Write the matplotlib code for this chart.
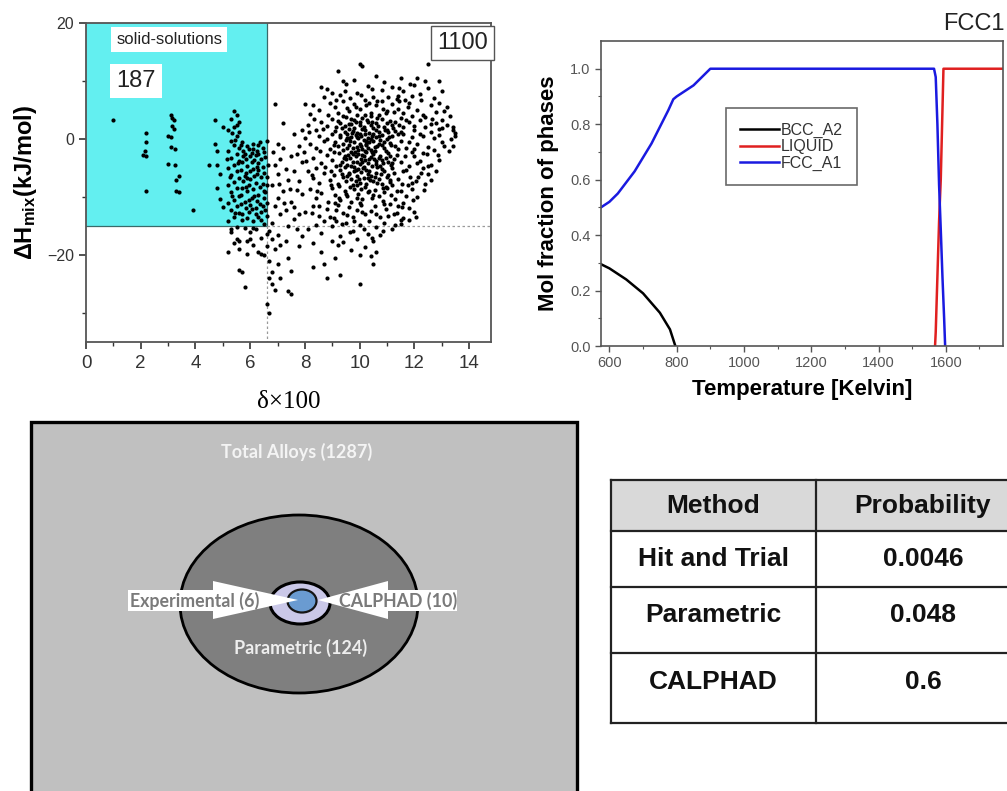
import matplotlib
matplotlib.use("Agg")
import matplotlib.pyplot as plt
from matplotlib.patches import Rectangle, Ellipse, Polygon
import numpy as np

plt.rcParams['font.family'] = ['Liberation Sans', 'DejaVu Sans']
plt.rcParams['mathtext.fontset'] = 'custom'
plt.rcParams['mathtext.rm'] = 'Liberation Sans'
plt.rcParams['mathtext.bf'] = 'Liberation Sans:bold'
plt.rcParams['mathtext.it'] = 'Liberation Sans:italic'

# ---------------- data: scatter (delta x100, dH_mix) ----------------
ss_points = [
    (1.0, 3.2), (2.2, 1.0), (2.2, -0.5), (2.15, -2.0), (2.1, -2.8), (2.2, -3.0), (2.2, -9.0),
    (3.1, 4.2), (3.15, 3.7), (3.2, 3.2), (3.15, 2.3), (3.2, 1.7), (3.0, 0.6), (3.1, 0.3),
    (3.1, -1.4), (3.25, -1.7), (3.0, -4.3), (3.25, -4.4), (3.4, -6.3), (3.3, -7.1), (3.3, -9.0),
    (3.4, -9.2), (3.9, -12.2),
    (4.5, -4.5), (4.7, 3.2), (4.7, -0.8), (4.8, -2.0), (4.8, -4.5), (4.8, -8.5), (4.9, -10.3),
    (5.0, -11.8), (5.0, 2.0), (4.9, -6.0),
    (5.4, 4.8), (5.5, 4.2), (5.3, 3.5), (5.6, 3.0), (5.5, 2.5), (5.4, 2.0), (5.2, 1.5), (5.6, 1.2),
    (5.5, 0.5), (5.3, -0.3), (5.4, -1.0), (5.6, -1.5), (5.2, -2.0), (5.5, -2.6), (5.3, -3.2),
    (5.6, -3.8), (5.4, -4.5), (5.2, -5.0), (5.5, -5.5), (5.3, -6.2), (5.6, -6.8), (5.4, -7.4),
    (5.2, -8.0), (5.5, -8.5), (5.3, -9.2), (5.6, -9.8), (5.4, -10.5), (5.2, -11.0), (5.5, -11.6),
    (5.3, -12.2), (5.6, -12.8), (5.4, -13.5), (5.2, -14.2), (5.45, -0.1), (5.35, 1.1),
    (5.7, -0.5), (5.9, -1.2), (6.1, -1.8), (6.3, -1.0), (6.5, -2.2), (5.8, -2.5), (6.0, -3.0),
    (6.2, -2.7), (6.4, -3.5), (6.6, -0.3), (5.7, -4.0), (5.9, -4.6), (6.1, -5.2), (6.3, -4.2),
    (6.5, -5.8), (5.8, -6.3), (6.0, -6.9), (6.2, -7.5), (6.4, -6.6), (6.6, -7.9), (5.7, -8.4),
    (5.9, -9.0), (6.1, -8.6), (6.3, -9.6), (6.5, -10.2), (5.8, -10.8), (6.0, -11.3), (6.2, -11.9),
    (6.4, -12.5), (6.6, -11.0), (5.7, -12.9), (5.9, -13.6), (6.1, -14.2), (6.3, -13.4), (6.5, -14.6),
    (5.75, -2.0), (5.85, -3.4), (5.95, -1.7), (6.05, -2.4), (6.15, -3.6), (6.25, -2.1), (6.35, -0.6),
    (6.45, -1.6), (6.55, -3.1), (5.65, -5.3), (5.85, -5.8), (6.05, -4.0), (6.25, -6.1), (6.45, -4.8),
    (6.6, -6.5), (5.75, -7.2), (5.95, -7.9), (6.15, -6.4), (6.35, -8.2), (6.55, -9.1), (5.65, -9.6),
    (5.85, -11.9), (6.05, -10.1), (6.25, -10.7), (6.45, -11.6), (6.6, -13.2), (5.7, -14.0),
    (5.95, -12.5), (6.2, -13.0), (6.4, -14.0), (6.1, -0.8), (6.3, -5.4), (5.9, -6.8),
    (5.15, -3.5), (5.25, -6.6), (5.35, -9.8), (5.45, -12.8), (5.55, -4.2), (5.65, -11.2),
    (5.75, -3.0), (5.85, -8.2), (5.95, -10.6), (6.05, -12.0), (6.15, -9.8), (6.25, -4.8),
    (6.35, -11.2), (6.45, -7.8), (6.55, -12.3), (6.65, -4.5), (5.65, -1.0), (6.0, -5.5),
    (6.3, -2.6), (6.5, -8.9),
]
tail_points = [
    (5.3, -16.0), (5.5, -17.2), (5.4, -18.0), (5.2, -19.5), (5.6, -19.0), (5.6, -22.5), (5.8, -25.5),
    (5.5, -15.2), (5.8, -15.3), (6.0, -16.1), (6.2, -15.6), (6.4, -17.0), (6.6, -16.4), (5.9, -17.6),
    (6.1, -18.2), (6.3, -19.5), (6.5, -20.0), (6.7, -21.0), (6.8, -23.0), (6.7, -24.0), (6.8, -25.0),
    (6.6, -28.5), (6.7, -30.0), (6.9, -26.0), (5.7, -23.0), (5.9, -19.8), (6.0, -17.2), (5.6, -17.5),
    (6.4, -19.8), (6.6, -18.5), (6.7, -15.8), (6.8, -17.3), (5.3, -15.5), (6.1, -15.3),
    (6.9, 6.0), (7.0, -0.8), (7.2, -1.5), (7.1, -3.5), (6.9, -4.5), (7.3, -5.2), (7.0, -6.0),
    (7.4, -7.0), (6.8, -8.0), (7.2, -9.0), (7.0, -10.2), (7.5, -10.8), (6.9, -11.5), (7.3, -12.3),
    (7.1, -13.0), (7.6, -13.8), (6.8, -14.5), (7.0, -16.5), (7.3, -17.5), (7.1, -18.2), (6.9, -19.0),
    (7.4, -20.5), (7.0, -21.5), (7.5, -22.8), (7.1, -24.0), (7.4, -26.2), (7.5, -26.8), (7.6, 0.8),
    (7.8, -1.2), (7.7, -2.5), (7.9, -4.0), (7.6, -5.6), (7.8, -7.2), (7.7, -8.8), (7.9, -9.5),
    (7.6, -11.8), (7.8, -13.0), (7.7, -15.5), (7.9, -16.8), (7.2, 2.8), (7.9, 1.5), (7.5, -3.0),
    (7.4, -15.0), (7.8, -18.5), (6.85, -2.2), (7.05, -7.8), (7.25, -11.0), (7.45, -8.6),
]
cloud_points = [
    (10.0, 13.0), (10.1, 12.6), (9.2, 11.8), (12.5, 13.0), (11.5, 10.5), (12.1, 10.5), (9.4, 10.0),
    (10.6, 10.8), (9.8, 10.2),
    (8.6, 9.0), (8.8, 8.6), (9.5, 9.5), (9.9, 8.0), (10.3, 9.2), (10.8, 8.5), (11.2, 9.0), (11.6, 8.2),
    (12.0, 9.3), (12.5, 8.8), (12.9, 10.0), (13.0, 8.2), (11.9, 7.5), (10.5, 7.2), (9.3, 7.6),
    (8.7, 7.3), (12.7, 7.0), (9.0, 8.0), (10.9, 9.8), (11.4, 7.5),
    (8.0, 6.0), (8.3, 5.8), (8.5, 5.0), (8.9, 6.2), (9.1, 5.5), (9.4, 6.5), (9.6, 4.8), (9.8, 6.0),
    (10.0, 5.2), (10.2, 6.8), (10.4, 4.5), (10.6, 5.8), (10.8, 6.5), (11.0, 4.9), (11.2, 6.0),
    (11.4, 5.2), (11.6, 4.4), (11.8, 6.2), (12.1, 5.0), (12.3, 4.2), (12.6, 5.8), (12.9, 6.2),
    (13.1, 4.8), (13.2, 5.5), (13.3, 4.0), (12.8, 4.6), (9.9, 4.2), (10.7, 4.1), (9.2, 4.5), (8.2, 4.3),
    (8.1, 2.5), (8.4, 1.5), (8.6, 3.0), (8.8, 2.2), (9.0, 3.5), (9.1, 1.3), (9.3, 2.8), (9.5, 3.8),
    (9.6, 1.8), (9.7, 2.6), (9.8, 3.3), (9.9, 1.1), (10.0, 2.4), (10.1, 3.6), (10.2, 1.5), (10.3, 2.9),
    (10.4, 3.9), (10.5, 1.9), (10.6, 2.7), (10.7, 1.2), (10.8, 3.4), (10.9, 2.1), (11.0, 1.6),
    (11.1, 3.1), (11.2, 2.4), (11.3, 1.4), (11.5, 3.7), (11.6, 2.0), (11.8, 2.9), (12.0, 1.5),
    (12.2, 3.3), (12.4, 2.0), (12.6, 1.2), (12.8, 2.8), (13.0, 3.2), (13.4, 1.5), (13.5, 1.0),
    (13.4, 2.0), (12.9, 1.8), (11.9, 3.9), (10.45, 3.0), (9.75, 1.4), (9.35, 1.9), (10.15, 2.1),
    (10.65, 3.6), (11.45, 2.5),
    (8.0, 0.2), (8.2, -0.8), (8.4, -1.5), (8.5, 0.6), (8.7, -0.3), (8.9, -1.8), (9.0, 0.9),
    (9.1, -0.6), (9.2, -1.2), (9.3, 0.3), (9.4, -1.9), (9.5, -0.2), (9.55, 0.8), (9.6, -1.0),
    (9.7, 0.4), (9.75, -1.6), (9.8, -0.5), (9.85, 0.7), (9.9, -1.3), (9.95, 0.1), (10.0, -0.8),
    (10.05, 0.5), (10.1, -1.7), (10.15, -0.2), (10.2, 0.9), (10.25, -1.1), (10.3, 0.2), (10.35, -0.6),
    (10.4, -1.9), (10.45, 0.6), (10.5, -0.4), (10.55, -1.4), (10.6, 0.3), (10.7, -0.9), (10.8, 0.7),
    (10.9, -1.5), (11.0, 0.0), (11.1, -0.7), (11.2, 0.5), (11.3, -1.2), (11.4, 0.8), (11.5, -0.3),
    (11.7, -1.6), (11.9, 0.4), (12.1, -0.9), (12.3, 0.6), (12.5, -1.3), (12.7, 0.2), (13.0, -0.5),
    (13.4, -1.2), (13.5, 0.5), (12.0, -1.8), (11.6, 0.9), (9.65, -0.4), (10.05, -1.2), (10.35, 1.1),
    (9.45, 1.2), (10.75, -0.1), (11.05, 1.2), (9.9, 0.3), (10.25, -0.3), (9.6, 0.1),
    (7.95, -2.3), (8.3, -3.2), (8.6, -4.1), (8.8, -2.7), (9.0, -3.6), (9.15, -4.7), (9.25, -2.4),
    (9.35, -3.9), (9.45, -2.9), (9.55, -4.4), (9.65, -3.3), (9.7, -2.2), (9.8, -4.8), (9.85, -3.0),
    (9.9, -3.9), (9.95, -2.5), (10.0, -4.3), (10.05, -3.4), (10.1, -2.8), (10.15, -4.9), (10.2, -3.7),
    (10.25, -2.3), (10.3, -4.1), (10.4, -3.1), (10.45, -4.6), (10.5, -2.6), (10.6, -3.8), (10.65, -4.9),
    (10.75, -2.9), (10.85, -4.2), (10.95, -3.3), (11.05, -2.4), (11.15, -4.5), (11.25, -3.5),
    (11.35, -2.7), (11.5, -4.0), (11.65, -3.0), (11.8, -4.6), (12.0, -2.9), (12.2, -3.8), (12.45, -2.6),
    (12.6, -4.4), (12.9, -3.6), (12.3, -5.0), (11.9, -2.2), (9.75, -2.6), (10.35, -3.5), (9.5, -3.4),
    (10.55, -2.1), (9.05, -2.2), (10.8, -3.6),
    (8.1, -5.5), (8.3, -6.8), (8.5, -7.6), (8.7, -5.9), (8.9, -7.1), (9.05, -6.2), (9.2, -7.8),
    (9.3, -5.4), (9.4, -6.6), (9.5, -7.3), (9.6, -5.8), (9.7, -6.9), (9.75, -7.9), (9.85, -5.3),
    (9.9, -6.4), (10.0, -7.5), (10.05, -5.7), (10.15, -6.8), (10.25, -7.7), (10.35, -5.5), (10.4, -6.3),
    (10.5, -7.2), (10.6, -5.9), (10.7, -6.9), (10.8, -7.8), (10.9, -5.6), (11.0, -6.6), (11.1, -7.4),
    (11.25, -5.8), (11.4, -6.9), (11.55, -7.7), (11.7, -5.4), (11.85, -6.5), (12.05, -7.3),
    (12.25, -5.9), (12.5, -6.0), (12.6, -7.0), (11.2, -8.0), (9.95, -5.1), (10.3, -6.1), (9.55, -6.3),
    (8.2, -8.6), (8.4, -10.2), (8.6, -9.3), (8.85, -10.8), (9.0, -8.4), (9.1, -9.7), (9.3, -10.5),
    (9.45, -8.9), (9.55, -9.9), (9.7, -10.9), (9.8, -8.6), (9.95, -9.5), (10.1, -10.4), (10.2, -8.3),
    (10.3, -9.2), (10.45, -10.1), (10.55, -8.8), (10.7, -9.8), (10.85, -10.7), (11.0, -8.5),
    (11.15, -9.6), (11.3, -10.3), (11.5, -8.9), (11.7, -9.9), (11.9, -8.7), (12.1, -10.0),
    (11.6, -11.0), (10.0, -11.0),
    (8.0, -12.5), (8.3, -11.6), (8.5, -13.2), (8.8, -12.0), (9.05, -13.7), (9.2, -11.4), (9.4, -12.8),
    (9.6, -11.8), (9.75, -13.4), (9.9, -12.2), (10.05, -11.3), (10.2, -13.0), (10.4, -12.4),
    (10.55, -11.5), (10.75, -13.5), (10.95, -12.1), (11.1, -11.2), (11.35, -12.7), (11.6, -13.6),
    (11.8, -11.9), (12.0, -12.6), (11.5, -14.0),
    (8.1, -15.5), (8.4, -14.8), (8.6, -16.2), (9.0, -15.0), (9.3, -16.8), (9.5, -14.5), (9.75, -15.8),
    (10.0, -14.9), (10.3, -16.3), (10.6, -15.2), (10.9, -14.4), (11.2, -15.6), (11.5, -14.7),
    (11.8, -13.9), (9.15, -14.2), (10.45, -17.0),
    (8.3, -18.0), (8.6, -19.5), (9.0, -17.5), (9.2, -18.3), (9.4, -17.8), (9.7, -19.2), (9.9, -17.3),
    (10.2, -18.6), (10.4, -20.2), (10.6, -19.5), (10.5, -17.6), (10.0, -20.0),
    (8.7, -21.5), (9.3, -23.5), (8.8, -24.0), (10.0, -25.0), (10.5, -21.5), (9.1, -20.5), (8.3, -22.0),
]
core_points = [
    (9.22, 3.1), (9.38, -0.9), (9.48, 2.2), (9.58, -2.7), (9.68, 3.5), (9.78, -5.6), (9.88, 2.9),
    (9.98, -6.9), (10.08, 1.7), (10.18, -2.0), (10.28, 3.3), (10.38, -7.1), (10.48, 0.9), (10.58, -4.3),
    (10.68, 2.3), (10.78, -6.1), (10.88, -0.6), (10.98, -8.2), (11.08, 0.4), (11.18, -5.0),
    (9.25, -8.1), (9.35, -6.0), (9.45, -4.9), (9.55, -1.5), (9.65, -8.3), (9.75, -3.9), (9.85, -7.2),
    (9.95, -1.9), (10.05, -8.7), (10.15, -3.0), (10.25, -5.3), (10.35, -8.9), (10.45, -2.2),
    (10.55, -6.6), (10.65, -1.2), (10.75, -4.6), (10.85, -8.4), (10.95, -2.0), (11.05, -6.2), (11.15, -1.0),
    (9.28, 0.7), (9.42, -3.3), (9.52, 0.2), (9.62, -6.1), (9.72, 1.0), (9.82, -2.2), (9.92, -8.0),
    (10.02, 3.0), (10.12, -5.0), (10.22, -0.9), (10.32, -6.7), (10.42, 2.5), (10.52, -3.5),
    (10.62, -7.5), (10.72, 0.6), (10.82, -5.2), (10.92, 1.5), (11.02, -3.9), (11.12, -7.0), (11.22, 1.9),
    (9.3, -4.4), (9.5, -9.4), (9.7, -4.7), (9.9, -10.2), (10.1, -4.0), (10.3, -1.5), (10.5, -9.6),
    (10.7, -3.2), (10.9, -9.1), (11.1, -2.9), (9.4, 4.0), (9.6, 2.6), (9.8, 1.9), (10.0, 0.9),
    (10.2, 4.2), (10.4, 0.0), (10.6, 1.5), (10.8, -1.0), (11.0, 2.8), (11.2, -4.2),
    (8.05, -3.8), (8.15, 1.2), (8.25, -6.2), (8.35, 3.5), (8.45, -9.0), (8.55, -2.0), (8.65, 1.8),
    (8.75, -4.8), (8.85, 4.2), (8.95, -8.0), (9.05, -1.0), (9.15, 2.0), (8.5, -11.5), (8.9, -13.5),
    (8.7, -14.2), (8.25, -12.8), (8.95, -5.5), (8.4, -5.0), (8.8, 0.0), (9.1, -11.0),
    (11.3, 3.0), (11.4, -1.8), (11.5, 1.2), (11.6, -5.6), (11.7, 3.3), (11.8, -0.6), (11.9, -7.5),
    (12.0, 2.2), (12.1, -4.1), (12.2, 0.9), (12.3, -2.4), (12.4, 3.8), (12.5, -4.6), (12.6, 2.6),
    (12.7, -1.9), (12.8, -5.6), (12.9, 0.7), (13.0, 1.9), (13.1, -1.2), (13.2, 2.4), (11.35, -9.0),
    (11.55, -11.8), (11.75, -8.0), (11.95, -10.5), (12.15, -6.5), (12.35, -8.8), (11.45, 6.5),
    (11.75, 5.5), (12.25, 6.8), (12.65, 3.5), (13.25, -2.0), (13.35, 0.0), (12.85, -2.8), (12.4, -7.8),
    (11.25, -13.0), (12.05, -13.5),
    (9.15, 6.8), (9.45, 8.2), (9.65, 7.0), (9.85, 5.5), (10.05, 7.6), (10.25, 5.8), (10.45, 8.6),
    (10.65, 6.6), (10.85, 5.2), (11.05, 7.3), (11.25, 4.6), (11.45, 8.8), (11.65, 6.8), (11.85, 9.5),
    (12.2, 7.8), (12.4, 10.0), (9.55, 5.3), (10.35, 6.2), (10.95, 4.4), (11.35, 6.9),
    (9.15, -12.3), (9.35, -14.6), (9.55, -13.1), (9.8, -14.1), (10.1, -12.6), (10.35, -14.2),
    (10.6, -12.9), (10.85, -15.8), (11.05, -13.3), (11.3, -14.9), (9.65, -16.0), (10.15, -15.5),
    (10.75, -16.5), (11.4, -11.5), (9.25, -10.2), (10.9, -11.2),
]

def xs(pts):
    return [p[0] for p in pts]

def ys(pts):
    return [p[1] for p in pts]

delta_limit = 6.6
dH_limit = -15.0
n_solid_solution = 187
n_other = 1100

# ---------------- data: phase fractions ----------------
bcc_T = [575, 600, 650, 700, 750, 780, 796]
bcc_f = [0.295, 0.28, 0.24, 0.19, 0.12, 0.06, 0.0]
liq_T = [1568, 1570, 1575, 1580, 1585, 1590, 1593, 1770]
liq_f = [0.0, 0.05, 0.25, 0.45, 0.60, 0.85, 1.0, 1.0]
fcc_T = [575, 600, 625, 650, 675, 700, 725, 750, 775, 790, 800, 825, 850, 875, 900,
         1565, 1570, 1575, 1580, 1585, 1590, 1595, 1598]
fcc_f = [0.50, 0.52, 0.55, 0.59, 0.63, 0.68, 0.73, 0.79, 0.85, 0.89, 0.90, 0.92, 0.94, 0.97, 1.00,
         1.00, 0.97, 0.80, 0.58, 0.42, 0.25, 0.10, 0.0]

# ---------------- data: alloy counts & table ----------------
n_total = 1287
n_parametric = 124
n_experimental = 6
n_calphad = 10
methods = ["Hit and Trial", "Parametric", "CALPHAD"]
probabilities = ["0.0046", "0.048", "0.6"]

W, H = 1007, 791
fig = plt.figure(figsize=(W / 100, H / 100), dpi=100)
fig.patch.set_facecolor('white')

def fx(px):
    return px / W

def fy(py):
    return 1 - py / H

# ---------- background overlay axes (pixel coordinates) ----------
bg = fig.add_axes([0, 0, 1, 1])
bg.set_xlim(0, W)
bg.set_ylim(H, 0)
bg.axis('off')

# Venn-like diagram
bg.add_patch(Rectangle((31, 422), 546, 400, facecolor='#c0c0c0', edgecolor='black', lw=2.4))
bg.add_patch(Ellipse((299, 604), 238, 178, facecolor='#7f7f7f', edgecolor='black', lw=2.0))
bg.add_patch(Ellipse((300, 603), 60, 42, facecolor='#cac8e8', edgecolor='black', lw=2.2))
bg.add_patch(Ellipse((302, 601), 29, 23, facecolor='#6a9bd1', edgecolor='#151515', lw=1.6))
bg.add_patch(Polygon([(128, 590), (213, 590), (213, 581), (298, 600), (213, 619), (213, 611), (128, 611)],
                     closed=True, facecolor='white', edgecolor='none'))
bg.add_patch(Polygon([(457, 590), (388, 590), (388, 581), (318, 600), (388, 619), (388, 611), (457, 611)],
                     closed=True, facecolor='white', edgecolor='none'))
diag_font = ['Lato', 'DejaVu Sans']
bg.text(297, 452, f"Total Alloys ({n_total})", ha='center', va='center', fontsize=13,
        fontweight='bold', color='#f4f4f4', family=diag_font)
bg.text(301, 648, f"Parametric ({n_parametric})", ha='center', va='center', fontsize=13,
        fontweight='bold', color='#eeeeee', family=diag_font)
bg.text(195, 601, f"Experimental ({n_experimental})", ha='center', va='center', fontsize=12.8,
        fontweight='bold', color='#7a7a7a', family=diag_font)
bg.text(398, 601, f"CALPHAD ({n_calphad})", ha='center', va='center', fontsize=12.8,
        fontweight='bold', color='#7a7a7a', family=diag_font)

# Table
t_left, t_mid, t_right = 611, 816, 1030
row_edges = [480, 531, 587, 653, 723]
bg.add_patch(Rectangle((t_left, row_edges[0]), t_right - t_left, row_edges[1] - row_edges[0],
                       facecolor='#d9d9d9', edgecolor='none'))
for yv in row_edges:
    bg.plot([t_left, t_right], [yv, yv], color='#222222', lw=1.6)
for xv in [t_left, t_mid, t_right]:
    bg.plot([xv, xv], [row_edges[0], row_edges[-1]], color='#222222', lw=1.6)
c1 = (t_left + t_mid) / 2
c2 = (t_mid + t_right) / 2
bg.text(c1, 506, "Method", ha='center', va='center', fontsize=19, fontweight='bold', color='#111111')
bg.text(c2, 506, "Probability", ha='center', va='center', fontsize=19, fontweight='bold', color='#111111')
text_rows = [559, 615, 682]
for m, p, yv in zip(methods, probabilities, text_rows):
    bg.text(c1, yv, m, ha='center', va='center', fontsize=19, fontweight='bold', color='#111111')
    bg.text(c2, yv, p, ha='center', va='center', fontsize=19, fontweight='bold', color='#111111')

# ---------- scatter ----------
ax1 = fig.add_axes([fx(86), fy(342), fx(491 - 86), (342 - 23) / H])
ax1.set_xlim(0, 14.8)
ax1.set_ylim(-35, 20)
ax1.add_patch(Rectangle((0, dH_limit), delta_limit, 20 - dH_limit, facecolor='#63eff0',
                        edgecolor='none', zorder=0))
ax1.plot([delta_limit, delta_limit], [20, dH_limit], color='#3a6a6a', lw=0.9, zorder=1)
ax1.plot([0, delta_limit], [dH_limit, dH_limit], color='#3a6a6a', lw=0.9, zorder=1)
ax1.plot([delta_limit, 14.8], [dH_limit, dH_limit], color='#9a9a9a', lw=0.9, ls=(0, (2, 2)), zorder=1)
ax1.plot([delta_limit, delta_limit], [dH_limit, -35], color='#9a9a9a', lw=0.9, ls=(0, (2, 2)), zorder=1)
for pts in (ss_points, tail_points, cloud_points, core_points):
    ax1.scatter(xs(pts), ys(pts), s=9, color='black', zorder=3, linewidths=0)
ax1.set_xticks([0, 2, 4, 6, 8, 10, 12, 14])
ax1.set_xticks([1, 3, 5, 7, 9, 11, 13], minor=True)
ax1.set_yticks([-20, 0, 20])
ax1.set_yticks([-30, -10, 10], minor=True)
ax1.tick_params(axis='x', which='major', labelsize=13.5, length=5, width=1.2, colors='#333333', pad=4)
ax1.tick_params(axis='y', which='major', labelsize=11.5, length=5, width=1.2, colors='#333333')
ax1.tick_params(which='minor', length=3, width=1.0, colors='#333333')
for sp in ax1.spines.values():
    sp.set_color('#555555')
    sp.set_linewidth(1.3)
ax1.set_ylabel(r'$\mathbf{\Delta H_{mix}}$(kJ/mol)', fontsize=17, fontweight='bold', labelpad=6)
ax1.set_xlabel('δ×100', fontsize=18, family=['Liberation Serif', 'DejaVu Serif'], labelpad=14)
ax1.text(3.05, 17.2, 'solid-solutions', ha='center', va='center', fontsize=12, color='#222222',
         bbox=dict(boxstyle='square,pad=0.3', facecolor='white', edgecolor='none'), zorder=4)
ax1.text(1.1, 10.0, str(n_solid_solution), ha='left', va='center', fontsize=17, color='#222222',
         bbox=dict(boxstyle='square,pad=0.25', facecolor='white', edgecolor='none'), zorder=4)
ax1.text(13.75, 16.6, str(n_other), ha='center', va='center', fontsize=17, color='#222222',
         bbox=dict(boxstyle='square,pad=0.25', facecolor='white', edgecolor='#555555', lw=1.0), zorder=4)

# ---------- phase fractions ----------
ax2 = fig.add_axes([fx(601), fy(346), fx(1003 - 601), (346 - 41) / H])
ax2.set_xlim(575, 1770)
ax2.set_ylim(0, 1.1)
ax2.plot(bcc_T, bcc_f, color='black', lw=1.8, label='BCC_A2')
ax2.plot(liq_T, liq_f, color='#e02020', lw=1.8, label='LIQUID')
ax2.plot(fcc_T, fcc_f, color='#1a1ae0', lw=1.8, label='FCC_A1')
ax2.set_xticks([600, 800, 1000, 1200, 1400, 1600])
ax2.set_xticks([700, 900, 1100, 1300, 1500, 1700], minor=True)
ax2.set_yticks([0, 0.2, 0.4, 0.6, 0.8, 1.0])
ax2.set_yticks([0.1, 0.3, 0.5, 0.7, 0.9], minor=True)
ax2.yaxis.set_major_formatter(matplotlib.ticker.FormatStrFormatter('%.1f'))
ax2.tick_params(which='major', labelsize=10.5, length=4, width=1.0, colors='#555555', labelcolor='#555555')
ax2.tick_params(which='minor', length=2.5, width=0.8, colors='#555555')
for sp in ax2.spines.values():
    sp.set_color('#555555')
    sp.set_linewidth(1.2)
ax2.set_ylabel('Mol fraction of phases', fontsize=16, fontweight='bold', labelpad=8)
ax2.set_xlabel('Temperature [Kelvin]', fontsize=16, fontweight='bold', labelpad=6)
leg = ax2.legend(loc='upper left', bbox_to_anchor=(fx(726), fy(108)), bbox_transform=fig.transFigure,
                 fontsize=11.5, frameon=True, fancybox=False, handlelength=2.4, handletextpad=0.1,
                 labelspacing=0.1, borderpad=0.9, borderaxespad=0)
leg.get_frame().set_edgecolor('#444444')
leg.get_frame().set_linewidth(1.2)
for t in leg.get_texts():
    t.set_color('#333333')
fig.text(fx(1005), fy(24), 'FCC1', ha='right', va='center', fontsize=17, color='#222222')

fig.savefig('out.png', dpi=100)
